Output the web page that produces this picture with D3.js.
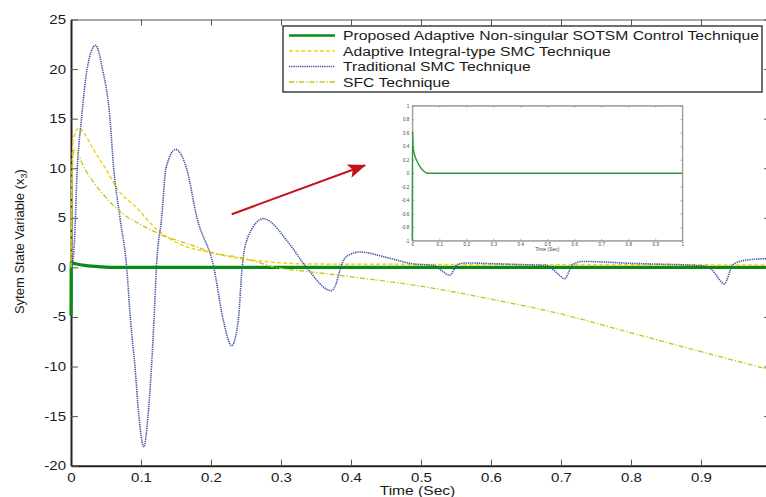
<!DOCTYPE html>
<html><head><meta charset="utf-8">
<script src="https://cdn.jsdelivr.net/npm/d3@7"></script>
<style>html,body{margin:0;padding:0;background:#fff;overflow:hidden}text{font-family:"Liberation Sans",Arial,Helvetica,sans-serif}</style>
</head><body>
<svg id="c" width="766" height="497"></svg>
<script>
// ---------------- data ----------------
const xTicks = [0, 0.1, 0.2, 0.3, 0.4, 0.5, 0.6, 0.7, 0.8, 0.9, 1];
const yTicks = [-20, -15, -10, -5, 0, 5, 10, 15, 20, 25];
const insetXTicks = [0, 0.1, 0.2, 0.3, 0.4, 0.5, 0.6, 0.7, 0.8, 0.9, 1];
const insetYTicks = [-1, -0.8, -0.6, -0.4, -0.2, 0, 0.2, 0.4, 0.6, 0.8, 1];
const seriesNames = ["Proposed Adaptive Non-singular SOTSM Control Technique",
  "Adaptive Integral-type SMC Technique", "Traditional SMC Technique", "SFC Technique"];

// Proposed Adaptive Non-singular SOTSM
const tGreen = [0, 0.0005, 0.003, 0.01, 0.02, 0.03, 0.045, 0.06, 0.2, 0.5, 1.0];
const vGreen = [-4.85, 0.55, 0.42, 0.32, 0.2, 0.12, 0.05, 0.0, 0.0, 0.0, 0.0];

// Adaptive Integral-type SMC
const tAISMC = [0, 0.001, 0.0033, 0.0114, 0.02, 0.032, 0.053, 0.065, 0.094, 0.122, 0.151, 0.199, 0.246, 0.294, 0.339, 0.5, 0.7, 1.0];
const vAISMC = [0, 8, 12.9, 14.06, 13.4, 11.9, 9.54, 8.03, 6.0, 3.85, 2.5, 1.5, 0.84, 0.5, 0.34, 0.3, 0.27, 0.25];

// Traditional SMC
const tSMC = [0, 0.004, 0.009, 0.015, 0.023, 0.035, 0.045, 0.0557, 0.061, 0.07, 0.0795, 0.085, 0.0914, 0.097, 0.104,
  0.11, 0.115, 0.1186, 0.122, 0.1295, 0.1357, 0.1495, 0.165, 0.18, 0.204, 0.2175, 0.2295, 0.239, 0.2445, 0.2525, 0.2748,
  0.285, 0.295, 0.305, 0.317, 0.33, 0.341, 0.355, 0.365, 0.372, 0.379, 0.384, 0.39, 0.4, 0.413, 0.451, 0.489, 0.518, 0.53, 0.541, 0.552, 0.565,
  0.613, 0.66, 0.68, 0.69, 0.698, 0.705, 0.717, 0.731, 0.803, 0.899, 0.908, 0.92, 0.927, 0.933, 0.946, 0.965, 1.0];
const vSMC = [0, 1.5, 10, 15, 20, 22.4, 20, 15, 10, 5, 0, -5.3, -10, -15, -18.1,
  -15, -10, -5.3, 0, 5, 10, 11.9, 10, 5, 0, -5.3, -7.9, -5.3, 0, 3, 4.92,
  4.6, 3.9, 3.0, 1.9, 0.6, -0.4, -1.6, -2.2, -2.34, -1.6, -0.3, 0.8, 1.35, 1.55, 1.0, 0.35, 0.2, -0.35, -0.8, 0.3, 0.45,
  0.35, 0.25, 0.2, -0.3, -0.8, -1.15, 0.3, 0.6, 0.4, 0.17, 0.1, -0.6, -1.3, -1.67, 0.3, 0.74, 0.9];

// SFC
const tSFC = [0, 0.0015, 0.0043, 0.02, 0.046, 0.072, 0.103, 0.127, 0.175, 0.199, 0.246, 0.3, 0.34, 0.4, 0.5, 0.6, 0.7, 0.8, 0.9, 1.0];
const vSFC = [0, 9, 11.95, 9.9, 7.37, 5.52, 4.19, 3.35, 2.18, 1.55, 0.94, -0.1, -0.43, -0.95, -1.9, -3.2, -4.7, -6.6, -8.5, -10.35];

// Inset: Proposed technique zoomed
const tInset = [0, 0.0005, 0.003, 0.008, 0.015, 0.025, 0.04, 0.055, 0.2, 0.6, 1.0];
const vInset = [-1, 0.62, 0.4, 0.28, 0.2, 0.12, 0.04, 0.0, 0.0, 0.0, 0.0];

// Arrow annotation (data units): start and end
const arrowT = [0.2296, 0.42];
const arrowV = [5.36, 10.3];

// ---------------- drawing ----------------
const svg = d3.select("#c");
const SX = 1.2; // horizontal text stretch of the original figure
const x = d3.scaleLinear().domain([0, 1]).range([71, 771]);
const y = d3.scaleLinear().domain([-20, 25]).range([465.7, 19.5]);

const colors = ["#0b8a12", "#f2d21a", "#3f52a8", "#c8c414"];
const dashes = [null, "4,2.2", "1.3,0.9", "5,2,1.2,2"];
const widths = [3.2, 1.5, 1.6, 1.3];

svg.append("defs").append("clipPath").attr("id", "plotclip")
  .append("rect").attr("x", x(0) - 2).attr("y", y(25)).attr("width", x(1) - x(0) + 2).attr("height", y(-20) - y(25));

const zip = (ts, vs) => ts.map((t, i) => [t, vs[i]]);
const seriesData = [zip(tGreen, vGreen), zip(tAISMC, vAISMC), zip(tSMC, vSMC), zip(tSFC, vSFC)];

const line = d3.line().x(d => x(d[0])).y(d => y(d[1])).curve(d3.curveMonotoneX);

// axes
function styleAxis(g, col, w) {
  g.select(".domain").attr("stroke", col).attr("stroke-width", w);
  g.selectAll(".tick line").attr("stroke", "#555").attr("stroke-width", 1);
  g.selectAll("text").attr("font-size", 12.5).attr("fill", "#1a1a1a")
    .attr("font-family", '"Liberation Sans",Arial,sans-serif');
}
const fmt = d => String(d);
const gTop = svg.append("g").attr("transform", `translate(0,${y(25)})`)
  .call(d3.axisTop(x).tickValues(xTicks).tickSize(-6).tickSizeOuter(0).tickFormat(""));
styleAxis(gTop, "#555", 1);
const gRight = svg.append("g").attr("transform", `translate(${x(1)},0)`)
  .call(d3.axisRight(y).tickValues(yTicks).tickSize(-7).tickSizeOuter(0).tickFormat(""));
styleAxis(gRight, "#555", 1);
const gBottom = svg.append("g").attr("transform", `translate(0,${y(-20)})`)
  .call(d3.axisBottom(x).tickValues(xTicks).tickSize(-6).tickSizeOuter(0).tickPadding(7).tickFormat(fmt));
styleAxis(gBottom, "#222", 2);
gBottom.selectAll("text").attr("transform", `scale(${SX},1)`);
const gLeft = svg.append("g").attr("transform", `translate(${x(0)},0)`)
  .call(d3.axisLeft(y).tickValues(yTicks).tickSize(-7).tickSizeOuter(0).tickPadding(5).tickFormat(fmt));
styleAxis(gLeft, "#222", 2);
gLeft.selectAll("text").attr("x", -5 / SX).attr("transform", `scale(${SX},1)`);

// series (drawn over the axis lines, as in the figure)
const plot = svg.append("g").attr("clip-path", "url(#plotclip)");
seriesData.forEach((d, i) => {
  plot.append("path").datum(d).attr("d", line)
    .attr("fill", "none").attr("stroke", colors[i]).attr("stroke-width", widths[i])
    .attr("stroke-dasharray", dashes[i]).attr("stroke-linejoin", "round");
});

// axis titles
svg.append("text").attr("transform", `translate(${(x(0) + 766) / 2 - 1},495) scale(${SX},1)`)
  .attr("text-anchor", "middle").attr("font-size", 13).attr("fill", "#1a1a1a").text("Time (Sec)");
const yl = svg.append("text").attr("transform", `translate(24,${y(2.6)}) rotate(-90)`)
  .attr("text-anchor", "middle").attr("font-size", 13).attr("fill", "#1a1a1a");
yl.append("tspan").text("Sytem State Variable (x");
yl.append("tspan").attr("font-size", 9).attr("dy", 3).text("3");
yl.append("tspan").attr("dy", -3).text(")");

// legend
const lg = svg.append("g");
lg.append("rect").attr("x", 283).attr("y", 26).attr("width", 479).attr("height", 66)
  .attr("fill", "#fff").attr("stroke", "#222").attr("stroke-width", 1.3);
seriesNames.forEach((name, i) => {
  const ly = 35.5 + i * 15.5;
  lg.append("line").attr("x1", 289).attr("x2", 335).attr("y1", ly).attr("y2", ly)
    .attr("stroke", colors[i]).attr("stroke-width", i === 0 ? 2.6 : widths[i]).attr("stroke-dasharray", dashes[i]);
  lg.append("text").attr("transform", `translate(343,${ly + 4.6}) scale(${SX},1)`)
    .attr("font-size", 13.1).attr("fill", "#1a1a1a").text(name);
});

// arrow
const defs = svg.select("defs");
defs.append("marker").attr("id", "ah").attr("markerUnits", "userSpaceOnUse")
  .attr("markerWidth", 18).attr("markerHeight", 14).attr("refX", 17).attr("refY", 7).attr("orient", "auto")
  .append("path").attr("d", "M0,0 L18,7 L0,14 L4,7 Z").attr("fill", "#c8101a");
svg.append("line").attr("x1", x(arrowT[0])).attr("y1", y(arrowV[0])).attr("x2", x(arrowT[1])).attr("y2", y(arrowV[1]))
  .attr("stroke", "#c8101a").attr("stroke-width", 2).attr("marker-end", "url(#ah)");

// inset
const ix = d3.scaleLinear().domain([0, 1]).range([412.3, 682.3]);
const iy = d3.scaleLinear().domain([-1, 1]).range([240.7, 105.7]);
const ins = svg.append("g");
ins.append("rect").attr("x", ix(0)).attr("y", iy(1)).attr("width", ix(1) - ix(0)).attr("height", iy(-1) - iy(1))
  .attr("fill", "#fff").attr("stroke", "#9a9a9a").attr("stroke-width", 0.8);
function styleInset(g) {
  g.select(".domain").attr("stroke", "#8a8a8a").attr("stroke-width", 0.8);
  g.selectAll(".tick line").attr("stroke", "#8a8a8a").attr("stroke-width", 0.6);
  g.selectAll("text").attr("font-size", 4.6).attr("fill", "#444");
}
const ib = ins.append("g").attr("transform", `translate(0,${iy(-1)})`)
  .call(d3.axisBottom(ix).tickValues(insetXTicks).tickSize(-2).tickSizeOuter(0).tickPadding(2).tickFormat(fmt));
styleInset(ib);
const it = ins.append("g").attr("transform", `translate(0,${iy(1)})`)
  .call(d3.axisTop(ix).tickValues(insetXTicks).tickSize(-2).tickSizeOuter(0).tickFormat(""));
styleInset(it);
const il = ins.append("g").attr("transform", `translate(${ix(0)},0)`)
  .call(d3.axisLeft(iy).tickValues(insetYTicks).tickSize(-2).tickSizeOuter(0).tickPadding(3).tickFormat(fmt));
styleInset(il);
const ir = ins.append("g").attr("transform", `translate(${ix(1)},0)`)
  .call(d3.axisRight(iy).tickValues(insetYTicks).tickSize(-2).tickSizeOuter(0).tickFormat(""));
styleInset(ir);
ins.append("text").attr("x", (ix(0) + ix(1)) / 2).attr("y", iy(-1) + 10.5).attr("text-anchor", "middle")
  .attr("font-size", 5).attr("fill", "#444").text("Time (Sec)");
ins.append("path").datum(zip(tInset, vInset))
  .attr("d", d3.line().x(d => ix(d[0])).y(d => iy(d[1])).curve(d3.curveMonotoneX))
  .attr("fill", "none").attr("stroke", "#2f9a35").attr("stroke-width", 1.4);
</script>
</body></html>
